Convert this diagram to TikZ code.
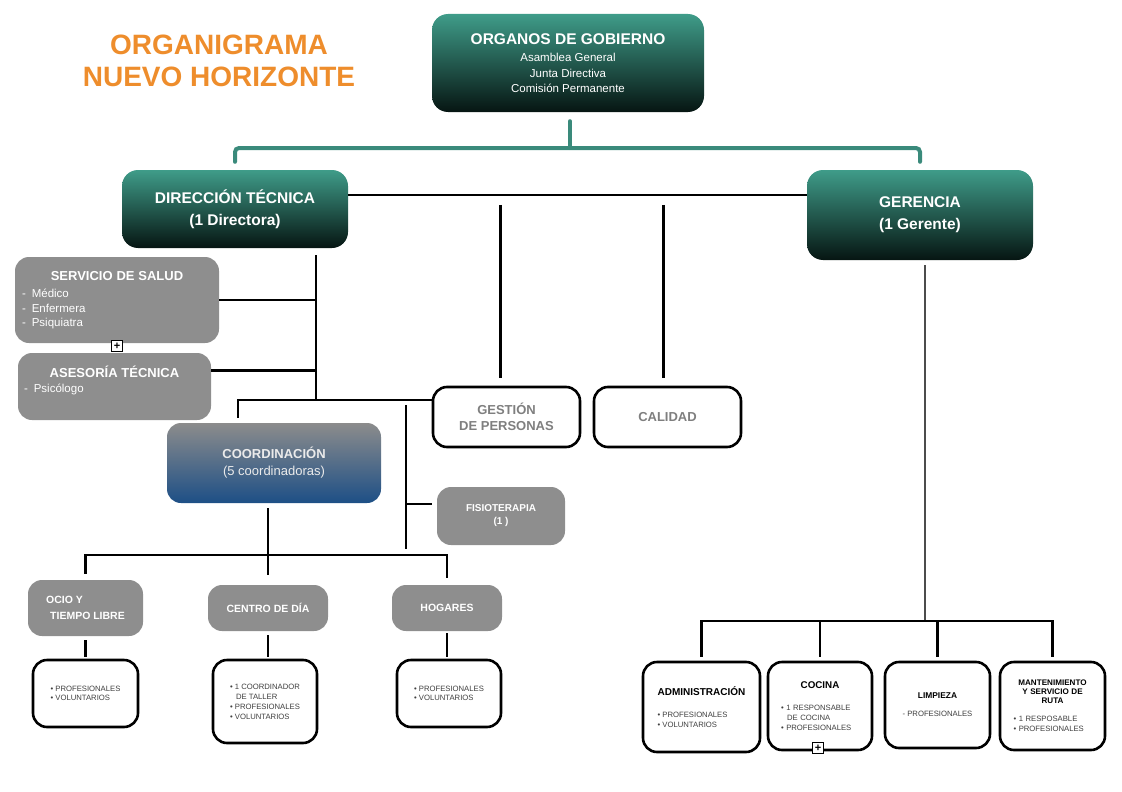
\documentclass[tikz,border=0pt]{standalone}
\usepackage{fontspec}
\setmainfont{Liberation Sans}
\usetikzlibrary{positioning,calc}
\definecolor{tealtop}{HTML}{3F9C89}
\definecolor{tealbot}{HTML}{061512}
\definecolor{tealline}{HTML}{3A8A7B}
\definecolor{boxgray}{HTML}{8E8E8E}
\definecolor{titleorange}{HTML}{EE8D2C}
\definecolor{coordblue}{HTML}{1D4F86}
\definecolor{coordgray}{HTML}{8C8C8C}
\definecolor{labelgray}{HTML}{7F7F7F}
\newcommand{\fsz}[2]{\fontsize{#1}{#2}\selectfont}
\tikzset{
    govbox/.style={rounded corners=16pt, top color=tealtop, bottom color=tealbot, text=white, align=center, inner sep=0pt},
    graybox/.style={rounded corners=14pt, fill=boxgray, text=white, inner sep=0pt},
    whitebox/.style={rounded corners=14pt, draw=black, line width=2.6pt, fill=white, inner sep=0pt},
    orgline/.style={draw=black, line width=2.4pt},
    govline/.style={draw=tealline, line width=4pt, line cap=round, rounded corners=4pt},
    plusbox/.style={draw, fill=white, line width=0.8pt, minimum size=11pt, inner sep=0pt, font=\fsz{11}{11}\bfseries}
}
\begin{document}
\begin{tikzpicture}[x=1pt, y=-1pt]
    \useasboundingbox (0,0) rectangle (1122,792);

    \node[font=\fsz{28}{32}\bfseries, text=titleorange, align=center] (title) at (219,61) {ORGANIGRAMA\\NUEVO HORIZONTE};

    \node[govbox, minimum width=272pt, minimum height=98pt, font=\fsz{11.5}{15.5}] (gob) at (568,63)
        {{\fsz{15.5}{18}\bfseries ORGANOS DE GOBIERNO}\\[2pt]Asamblea General\\Junta Directiva\\Comisión Permanente};
    \node[govbox, minimum width=226pt, minimum height=78pt, font=\fsz{15.5}{22}\bfseries] (dir) at (235,209) {DIRECCIÓN TÉCNICA\\(1 Directora)};
    \node[govbox, minimum width=226pt, minimum height=90pt, font=\fsz{15.5}{22}\bfseries] (ger) at (920,215) {GERENCIA\\(1 Gerente)};

    \node[graybox, minimum width=204pt, minimum height=86pt, text width=190pt, align=left, font=\fsz{11.5}{14.5}] (salud) at (117,300)
        {\makebox[190pt]{\fsz{13}{14}\bfseries SERVICIO DE SALUD}\\[3pt]-\hspace{6pt}Médico\\-\hspace{6pt}Enfermera\\-\hspace{6pt}Psiquiatra};
    \node[plusbox] (plussalud) at (117,346) {+};
    \node[graybox, minimum width=193pt, minimum height=67pt, text width=181pt, align=left, font=\fsz{11.5}{14.5}] (ase) at (114.5,386.5)
        {\makebox[181pt]{\fsz{13}{14}\bfseries ASESORÍA TÉCNICA}\\-\hspace{6pt}Psicólogo\\\mbox{}};

    \node[whitebox, minimum width=147pt, minimum height=60pt, align=center, text=labelgray, font=\fsz{13}{16}\bfseries] (gp) at (506.5,417) {GESTIÓN\\DE PERSONAS};
    \node[whitebox, minimum width=147pt, minimum height=60pt, text=labelgray, font=\fsz{13}{16}\bfseries] (cal) at (667.5,417) {CALIDAD};

    \node[rounded corners=14pt, top color=coordgray, bottom color=coordblue, text=white!92!black, inner sep=0pt,
          minimum width=214pt, minimum height=80pt, align=center, font=\fsz{13}{17}] (coord) at (274,463)
        {{\fsz{13}{17}\bfseries COORDINACIÓN}\\(5 coordinadoras)};
    \node[graybox, minimum width=128pt, minimum height=58pt, align=center, font=\fsz{10}{13}\bfseries] (fis) at (501,516) {FISIOTERAPIA\\(1 )};

    \node[graybox, minimum width=115pt, minimum height=56pt, align=left, font=\fsz{10.5}{16}\bfseries] (ocio) at (85.5,608) {OCIO Y\\\hspace*{4pt}TIEMPO LIBRE};
    \node[graybox, minimum width=120pt, minimum height=46pt, font=\fsz{10.5}{16}\bfseries] (centro) at (268,608) {CENTRO DE DÍA};
    \node[graybox, minimum width=110pt, minimum height=46pt, font=\fsz{10.5}{16}\bfseries] (hog) at (447,608) {HOGARES};

    \node[whitebox, minimum width=105pt, minimum height=67pt, align=left, text=black!75, font=\fsz{7.7}{9.5}] (olist) at (85.5,693.5) {• PROFESIONALES\\• VOLUNTARIOS};
    \node[whitebox, minimum width=104pt, minimum height=83pt, align=left, text=black!75, font=\fsz{7.7}{10}] (clist) at (265,701.5)
        {• 1 COORDINADOR\\\hspace*{6pt}DE TALLER\\• PROFESIONALES\\• VOLUNTARIOS};
    \node[whitebox, minimum width=104pt, minimum height=67pt, align=left, text=black!75, font=\fsz{7.7}{9.5}] (hlist) at (449,693.5) {• PROFESIONALES\\• VOLUNTARIOS};

    \node[whitebox, minimum width=117pt, minimum height=90pt, align=left, text=black!75, font=\fsz{7.7}{10}] (adm) at (701.5,707)
        {{\fsz{10}{10}\bfseries\color{black} ADMINISTRACIÓN}\\[12pt]• PROFESIONALES\\• VOLUNTARIOS};
    \node[whitebox, minimum width=104pt, minimum height=88pt, text width=78pt, align=left, text=black!75, font=\fsz{7.7}{10}] (coc) at (820,706)
        {\makebox[78pt]{\fsz{9.8}{10}\bfseries\color{black} COCINA}\\[12pt]• 1 RESPONSABLE\\\hspace*{6pt}DE COCINA\\• PROFESIONALES};
    \node[plusbox] (pluscoc) at (818,748) {+};
    \node[whitebox, minimum width=105pt, minimum height=86pt, align=center, text=black!75, font=\fsz{7.7}{10}] (lim) at (937.5,705)
        {{\fsz{8.4}{10}\bfseries\color{black} LIMPIEZA}\\[8pt]- PROFESIONALES};
    \node[whitebox, minimum width=105pt, minimum height=88pt, text width=78pt, align=left, text=black!75, font=\fsz{7.7}{10}] (mant) at (1052.5,706)
        {\fsz{8.1}{9}\bfseries\color{black}\makebox[78pt]{MANTENIMIENTO}\\\makebox[78pt]{Y SERVICIO DE}\\\makebox[78pt]{RUTA}\\[8pt]%
         \mdseries\color{black!75}\fsz{7.7}{10}• 1 RESPOSABLE\\• PROFESIONALES};

    \coordinate (govbus) at (570,148);
    \draw[govline, shorten <=9pt] (gob.south -| govbus) -- (govbus);
    \draw[govline, shorten <=8pt, shorten >=8pt] (dir.north) |- (govbus) -| (ger.north);

    \path (dir.north east) ++(0,25) coordinate (dtbus);
    \draw[orgline] (dtbus) -- (ger.west |- dtbus);
    \draw[orgline, shorten <=10pt, shorten >=8pt] ([xshift=-6pt]gp.north |- dtbus) -- ([xshift=-6pt]gp.north);
    \draw[orgline, shorten <=10pt, shorten >=8pt] ([xshift=-4pt]cal.north |- dtbus) -- ([xshift=-4pt]cal.north);

    \path (dir.south) ++(81,7) coordinate (ltop);
    \path (gp.west) ++(0,-17) coordinate (gpjoin);
    \draw[orgline] (ltop) -- (ltop |- gpjoin);
    \draw[orgline] (salud.east) -- (salud.east -| ltop);
    \draw[orgline] ([yshift=16pt]ase.east) -- ([yshift=16pt]ase.east -| ltop);
    \draw[orgline, shorten <=5pt] ([xshift=-36pt]coord.north) |- (gpjoin);

    \path (coord.south) ++(-6,52) coordinate (cbus);
    \path (gpjoin) ++(-26,5) coordinate (ftop);
    \draw[orgline, shorten >=6pt] (ftop) -- (ftop |- cbus);
    \draw[orgline, shorten <=5pt] ([yshift=12pt]fis.west) -- ([yshift=12pt]fis.west -| ftop);

    \draw[orgline, shorten <=5pt] (coord.south -| cbus) -- (cbus);
    \draw[orgline, shorten <=6pt, shorten >=7pt] (ocio.north) |- (cbus) -| (hog.north);
    \draw[orgline, shorten >=10pt] (cbus) -- (centro.north);
    \draw[orgline, shorten <=4pt, shorten >=2pt] (ocio.south) -- (olist.north);
    \draw[orgline, shorten <=4pt, shorten >=2pt] (centro.south) -- (centro.south |- clist.north);
    \draw[orgline, shorten <=2pt, shorten >=2pt] (hog.south) -- (hog.south |- hlist.north);

    \path (ger.south) ++(5,361) coordinate (gbus);
    \draw[draw=black!70, line width=1.6pt, shorten <=5pt] (ger.south -| gbus) -- (gbus);
    \draw[orgline, shorten <=4pt, shorten >=4pt] (adm.north) |- (gbus) -| (mant.north);
    \draw[orgline, shorten >=4pt] (coc.north |- gbus) -- (coc.north);
    \draw[orgline, shorten >=4pt] (lim.north |- gbus) -- (lim.north);
\end{tikzpicture}
\end{document}
